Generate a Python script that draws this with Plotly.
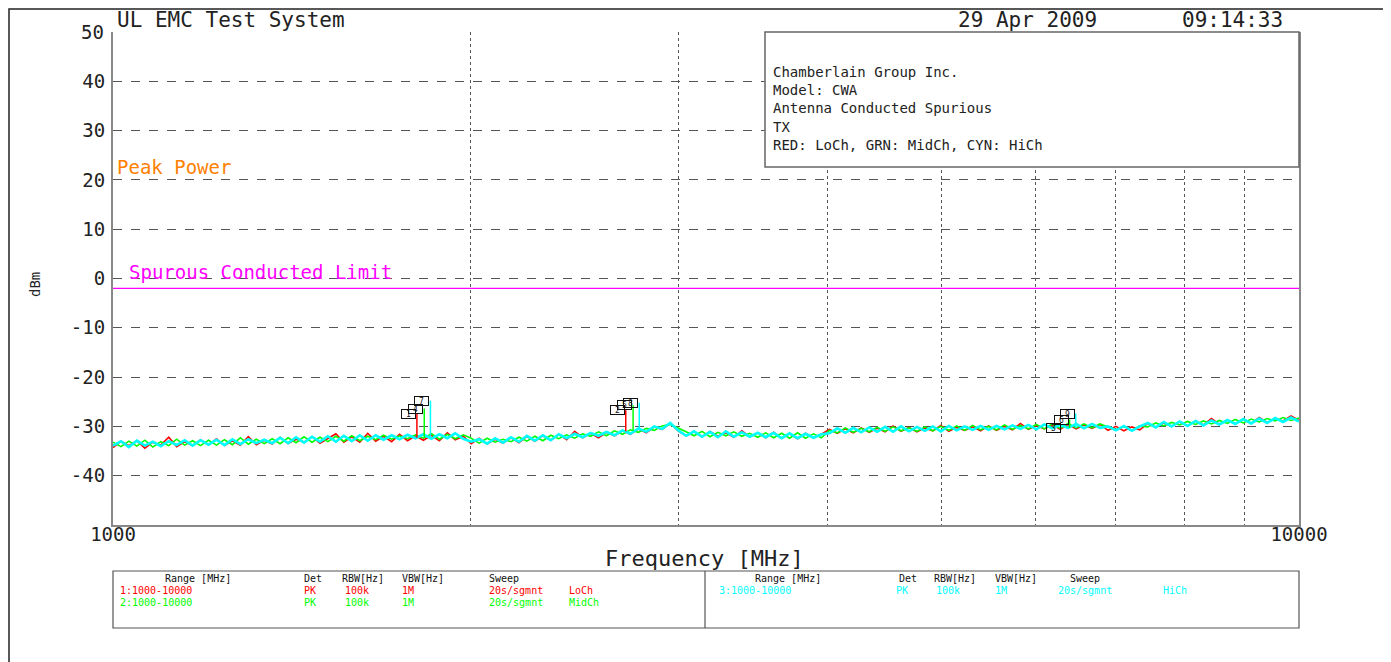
import numpy as np
import plotly.graph_objects as go

# ---------------- data ----------------
title_left = "UL EMC Test System"
date_text = "29 Apr 2009"
time_text = "09:14:33"
info_lines = ["Chamberlain Group Inc.", "Model: CWA", "Antenna Conducted Spurious", "TX",
              "RED: LoCh, GRN: MidCh, CYN: HiCh"]

y_ticks = [40, 30, 20, 10, 0, -10, -20, -30, -40]
x_grid = [1000, 2000, 3000, 4000, 5000, 6000, 7000, 8000, 9000, 10000]
x_labels = ["1000", "", "", "", "", "", "", "", "", "10000"]

limit_level = -2.0
limit_label = "Spurous Conducted Limit"
peak_label = "Peak Power"

n_points = 150
freqs = np.geomspace(1000, 10000, n_points)  # sweep sample grid (MHz)

loch = [-34.3,-33.0,-33.9,-32.9,-34.4,-33.2,-33.8,-32.2,-34.1,-33.1,
        -33.9,-32.7,-33.8,-32.5,-33.9,-32.9,-33.8,-32.1,-33.7,-32.8,
        -33.6,-32.2,-33.5,-32.6,-33.2,-32.1,-33.4,-32.5,-31.5,-33.2,
        -32.1,-33.2,-31.4,-33.0,-32.0,-33.1,-31.6,-32.9,-31.9,-32.8,
        -31.8,-32.9,-31.3,-32.7,-32.0,
        -33.5,-32.4,-33.6,-32.6,-33.4,
        -32.3,-33.3,-32.0,-33.0,-31.9,-32.8,-31.6,-32.7,-31.0,-32.3,
        -31.4,-32.3,-31.2,-31.9,-30.9,-31.6,-30.5,-31.3,-30.1,-30.6,
        -29.4,-30.9,
        -31.9,-31.1,-32.1,-31.0,-32.0,-31.3,-32.2,-30.9,
        -32.1,-31.3,-32.3,-31.2,-32.4,-31.5,-32.5,-31.4,-32.3,-31.6,
        -30.6,-31.4,-30.5,-31.3,-30.3,-31.2,-30.4,-31.1,-29.9,-31.0,
        -30.2,-31.1,-30.3,-30.9,-29.8,-31.0,-30.2,-30.8,-30.1,-30.9,
        -29.9,-30.8,-30.0,-30.7,-29.4,-30.6,-29.8,-30.5,-29.7,-30.6,
        -29.6,-30.5,-29.7,-30.4,-29.6,
        -30.8,-30.0,-30.9,-30.1,-30.7,
        -29.4,-30.2,-29.3,-30.0,-29.1,-29.9,-28.9,-29.7,-28.4,-29.6,
        -28.7,-29.5,-28.6,-29.4,-28.2,-29.2,-28.4,-28.9,-27.9,-28.8]

midch = [-33.2,-34.1,-33.0,-34.0,-32.8,-34.2,-33.1,-33.9,-32.6,-33.8,
         -32.9,-33.9,-32.8,-33.8,-32.7,-33.7,-32.3,-33.6,-32.6,-33.5,
         -32.5,-33.5,-32.3,-33.3,-32.1,-33.2,-32.2,-33.1,-32.0,-33.0,
         -31.9,-32.9,-32.0,-32.7,-31.8,-32.6,-31.9,-32.5,-31.7,-32.4,
         -31.5,-32.6,-31.6,-32.5,-31.7,
         -32.4,-33.4,-32.4,-33.2,-32.6,
         -33.1,-32.2,-33.0,-32.0,-32.9,-31.8,-32.5,-31.7,-32.4,-31.5,
         -32.0,-31.1,-31.9,-30.9,-31.6,-30.7,-31.2,-30.4,-30.8,-29.9,
         -29.6,-30.3,
         -31.1,-31.9,-31.0,-32.1,-31.2,-31.9,-31.1,-32.0,
         -31.4,-32.2,-31.3,-32.3,-31.4,-32.4,-31.3,-32.4,-31.5,-32.3,
         -30.8,-31.3,-30.3,-31.2,-30.4,-31.1,-30.2,-31.0,-30.1,-30.9,
         -30.3,-31.0,-30.1,-30.9,-30.0,-30.8,-29.9,-30.8,-29.8,-30.7,
         -30.0,-30.7,-29.7,-30.6,-29.8,-30.5,-29.6,-30.5,-29.5,-30.4,
         -29.4,-30.3,-29.5,-30.3,-29.5,
         -30.1,-30.7,-30.0,-30.8,-29.9,
         -30.1,-29.3,-29.9,-29.2,-29.7,-29.0,-29.6,-28.9,-29.5,-28.8,
         -29.4,-28.6,-29.3,-28.5,-29.1,-28.4,-28.9,-28.2,-28.8,-28.3]

hich = [-33.9,-33.0,-34.2,-32.9,-33.9,-33.1,-34.0,-33.0,-33.8,-32.8,
        -33.9,-32.8,-33.7,-32.7,-33.8,-32.6,-33.6,-32.6,-33.4,-32.7,
        -33.4,-32.3,-33.4,-32.2,-33.3,-32.1,-33.1,-32.0,-33.1,-31.9,
        -33.0,-31.8,-32.9,-31.8,-32.7,-31.8,-32.6,-31.7,-32.4,-31.6,
        -32.5,-31.6,-32.4,-31.4,-32.5,
        -33.1,-32.6,-33.5,-32.4,-33.3,
        -32.2,-33.1,-31.9,-32.9,-31.8,-32.8,-31.6,-32.4,-31.5,-32.2,
        -31.3,-31.9,-31.1,-31.8,-30.8,-31.5,-30.4,-31.1,-30.0,-30.5,
        -29.3,-30.8,
        -31.9,-31.0,-32.1,-31.1,-32.2,-31.0,-32.1,-31.2,
        -32.1,-31.3,-32.2,-31.3,-32.4,-31.4,-32.4,-31.5,-32.3,-31.6,
        -31.4,-30.4,-31.3,-30.3,-31.2,-30.2,-31.1,-30.1,-31.1,-30.0,
        -31.0,-30.1,-30.9,-30.0,-31.0,-29.9,-30.8,-30.0,-30.7,-29.9,
        -30.7,-29.9,-30.6,-29.8,-30.5,-29.7,-30.6,-29.6,-30.4,-29.7,
        -30.3,-29.5,-30.4,-29.5,-30.3,
        -30.0,-30.8,-29.9,-30.9,-30.0,
        -29.3,-30.2,-29.1,-30.0,-29.0,-29.9,-28.9,-29.8,-28.8,-29.6,
        -28.7,-29.5,-28.5,-29.4,-28.4,-29.3,-28.3,-29.1,-28.2,-29.0]

# harmonic spurs (MHz, dBm) and marker numbers
spur_lo_f = [1804, 2706, 6314]
spur_lo_peak = [-27.5, -26.7, -30.3]
spur_lo_base = [-32.3, -31.0, -30.3]
spur_lo_num = ["1", "2", "3"]

spur_mid_f = [1830, 2745, 6405]
spur_mid_peak = [-26.4, -25.7, -28.6]
spur_mid_base = [-32.2, -30.9, -30.3]
spur_mid_num = ["4", "5", "6"]

spur_hi_f = [1852, 2778, 6482]
spur_hi_peak = [-24.8, -25.2, -27.4]
spur_hi_base = [-32.1, -30.8, -30.3]
spur_hi_num = ["7", "8", "9"]

# bottom table
tbl_header = ["Range [MHz]", "Det", "RBW[Hz]", "VBW[Hz]", "Sweep"]
tbl_row1 = ["1:1000-10000", "PK", "100k", "1M", "20s/sgmnt", "LoCh"]
tbl_row2 = ["2:1000-10000", "PK", "100k", "1M", "20s/sgmnt", "MidCh"]
tbl_row3 = ["3:1000-10000", "PK", "100k", "1M", "20s/sgmnt", "HiCh"]

# ---------------- styling / layout ----------------
RED, GRN, CYN = "#ff0000", "#00ff00", "#00ffff"
MAG, ORG = "#ff00ff", "#ff8000"
FONT = "DejaVu Sans Mono"
OFF = 8                       # page offset of the figure (body margin)
L, R, T, B = 113, 1299, 32, 525   # plot area in page pixels
W, H = 1391 - OFF, 662 - OFF


def px(x):
    return (x - L) / (R - L)


def py(y):
    return (B - y) / (B - T)


fig = go.Figure()

for vals, col, lw in [(loch, RED, 1.6), (midch, GRN, 1.6), (hich, CYN, 2.6)]:
    fig.add_trace(go.Scatter(x=freqs, y=vals, mode="lines",
                             line=dict(color=col, width=lw), hoverinfo="skip"))


def spur_xy(fs, bases, peaks):
    xs, ys = [], []
    for f, b, p in zip(fs, bases, peaks):
        xs += [f, f, None]
        ys += [b, p, None]
    return xs, ys


for fs, bs, ps, col in [(spur_lo_f, spur_lo_base, spur_lo_peak, RED),
                        (spur_mid_f, spur_mid_base, spur_mid_peak, GRN),
                        (spur_hi_f, spur_hi_base, spur_hi_peak, CYN)]:
    xs, ys = spur_xy(fs, bs, ps)
    fig.add_trace(go.Scatter(x=xs, y=ys, mode="lines",
                             line=dict(color=col, width=1.5), hoverinfo="skip"))

# limit line
fig.add_trace(go.Scatter(x=[1000, 10000], y=[limit_level, limit_level], mode="lines",
                         line=dict(color=MAG, width=1.2), hoverinfo="skip"))

ann = []
# marker boxes
for fs, ps, nums in [(spur_lo_f, spur_lo_peak, spur_lo_num),
                     (spur_mid_f, spur_mid_peak, spur_mid_num),
                     (spur_hi_f, spur_hi_peak, spur_hi_num)]:
    for f, p, n in zip(fs, ps, nums):
        ann.append(dict(x=np.log10(f), y=p, xref="x", yref="y", text=n, showarrow=False,
                        font=dict(family=FONT, size=8, color="#111"),
                        bordercolor="#111", borderwidth=1, borderpad=0,
                        width=13, height=8, xanchor="right", yanchor="middle", xshift=-1))

# header texts
ann.append(dict(x=px(115), y=py(20), xref="paper", yref="paper", text=title_left,
                showarrow=False, xanchor="left", yanchor="middle",
                font=dict(family=FONT, size=21, color="#222")))
ann.append(dict(x=px(1027), y=py(20), xref="paper", yref="paper", text=date_text,
                showarrow=False, xanchor="center", yanchor="middle",
                font=dict(family=FONT, size=21, color="#222")))
ann.append(dict(x=px(1232), y=py(20), xref="paper", yref="paper", text=time_text,
                showarrow=False, xanchor="center", yanchor="middle",
                font=dict(family=FONT, size=21, color="#222")))
# "50" label at top
ann.append(dict(x=px(106), y=py(32), xref="paper", yref="paper", text="50",
                showarrow=False, xanchor="right", yanchor="middle",
                font=dict(family=FONT, size=19, color="#222")))
# info box (one multi-line text block)
ann.append(dict(x=px(771), y=py(62), xref="paper", yref="paper", text="<br>".join(info_lines),
                showarrow=False, xanchor="left", yanchor="top", align="left",
                font=dict(family=FONT, size=14, color="#222")))
# peak power / limit labels
ann.append(dict(x=px(115), y=py(167), xref="paper", yref="paper", text=peak_label,
                showarrow=False, xanchor="left", yanchor="middle",
                font=dict(family=FONT, size=19, color=ORG)))
ann.append(dict(x=px(127), y=py(272), xref="paper", yref="paper", text=limit_label,
                showarrow=False, xanchor="left", yanchor="middle",
                font=dict(family=FONT, size=19, color=MAG)))
# axis titles
ann.append(dict(x=px(35), y=py(285), xref="paper", yref="paper", text="dBm",
                showarrow=False, textangle=-90, xanchor="center", yanchor="middle",
                font=dict(family=FONT, size=14, color="#222")))
ann.append(dict(x=px(704), y=py(558), xref="paper", yref="paper", text="Frequency [MHz]",
                showarrow=False, xanchor="center", yanchor="middle",
                font=dict(family=FONT, size=22, color="#222")))

# bottom table
hdr_x_left = [163, 302, 340, 400, 487]
hdr_x_right = [753, 897, 932, 993, 1068]
row_x_left = [118, 302, 343, 400, 487, 567]
row_x_right = [717, 894, 934, 993, 1056, 1161]
for txt, x in zip(tbl_header, hdr_x_left):
    ann.append(dict(x=px(x), y=py(578), xref="paper", yref="paper", text=txt, showarrow=False,
                    xanchor="left", yanchor="middle", font=dict(family=FONT, size=10, color="#111")))
for txt, x in zip(tbl_header, hdr_x_right):
    ann.append(dict(x=px(x), y=py(578), xref="paper", yref="paper", text=txt, showarrow=False,
                    xanchor="left", yanchor="middle", font=dict(family=FONT, size=10, color="#111")))
for row, yy, xs, col in [(tbl_row1, 590, row_x_left, RED), (tbl_row2, 602, row_x_left, GRN),
                         (tbl_row3, 590, row_x_right, CYN)]:
    for txt, x in zip(row, xs):
        ann.append(dict(x=px(x), y=py(yy), xref="paper", yref="paper", text=txt, showarrow=False,
                        xanchor="left", yanchor="middle", font=dict(family=FONT, size=10, color=col)))

shapes = [
    # outer frame
    dict(type="rect", xref="paper", yref="paper", x0=px(9), x1=px(1385), y0=py(672), y1=py(9),
         line=dict(color="#222", width=1.5)),
    # info box
    dict(type="rect", xref="paper", yref="paper", x0=px(765), x1=px(1299), y0=py(167), y1=py(32),
         line=dict(color="#666", width=1.5), fillcolor="white", layer="above"),
    # bottom table
    dict(type="rect", xref="paper", yref="paper", x0=px(113), x1=px(1299), y0=py(628), y1=py(571),
         line=dict(color="#555", width=1.2)),
    dict(type="line", xref="paper", yref="paper", x0=px(705), x1=px(705), y0=py(628), y1=py(571),
         line=dict(color="#555", width=1.2)),
]

fig.update_layout(
    width=W, height=H,
    margin=dict(l=L - OFF, r=W - (R - OFF), t=T - OFF, b=H - (B - OFF), pad=0),
    paper_bgcolor="white", plot_bgcolor="white",
    showlegend=False,
    annotations=ann,
    shapes=shapes,
    font=dict(family=FONT, color="#222"),
    xaxis=dict(type="log", range=[3, 4], tickvals=x_grid, ticktext=x_labels,
               showgrid=True, gridcolor="#555", griddash="dot", gridwidth=1,
               showline=True, linecolor="#888", linewidth=2, mirror=False,
               ticks="", ticklabelstandoff=-9, tickfont=dict(family=FONT, size=19, color="#222"),
               zeroline=False, fixedrange=True),
    yaxis=dict(range=[-50, 50], tickvals=y_ticks, ticktext=[str(v) for v in y_ticks],
               showgrid=True, gridcolor="#555", griddash="dash", gridwidth=1,
               showline=True, linecolor="#888", linewidth=2, mirror=True,
               ticks="", ticklabelstandoff=2, tickfont=dict(family=FONT, size=19, color="#222"),
               zeroline=False, fixedrange=True),
)

fig.write_html("out.html")
